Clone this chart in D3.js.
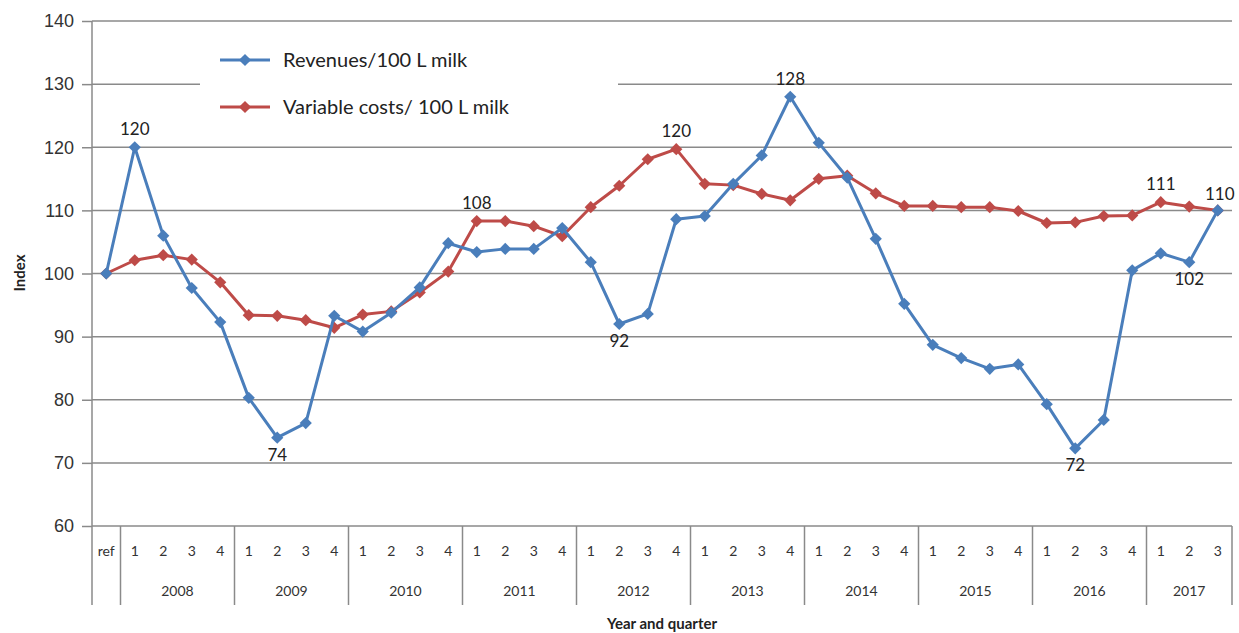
<!DOCTYPE html>
<html>
<head>
<meta charset="utf-8">
<script src="https://cdn.jsdelivr.net/npm/d3@7"></script>
<style>
  html, body { margin: 0; padding: 0; background: #fff; }
  svg { display: block; font-family: Lato, "Open Sans", "Liberation Sans", sans-serif; }
</style>
</head>
<body>
<svg id="chart" width="1239" height="633"></svg>
<script>
// Quarter categories: reference point, then quarters per year
const years = ["2008","2009","2010","2011","2012","2013","2014","2015","2016","2017"];
const quartersPerYear = [4,4,4,4,4,4,4,4,4,3];
const yTicks = [60,70,80,90,100,110,120,130,140];

// Index values (reference = 100)
const revenues = [100,
  120,106,97.7,92.3,
  80.3,74,76.3,93.3,
  90.8,93.8,97.8,104.8,
  103.4,103.9,103.9,107.2,
  101.8,92,93.6,108.6,
  109.1,114.2,118.7,128,
  120.7,115.2,105.5,95.2,
  88.7,86.6,84.9,85.6,
  79.3,72.3,76.8,100.5,
  103.2,101.8,110];
const costs = [100,
  102.1,102.9,102.2,98.6,
  93.4,93.3,92.6,91.4,
  93.5,94,97,100.3,
  108.3,108.3,107.5,105.9,
  110.5,113.9,118.1,119.7,
  114.2,114,112.6,111.6,
  115,115.5,112.7,110.7,
  110.7,110.5,110.5,109.9,
  108,108.1,109.1,109.2,
  111.3,110.6,110];

// Value labels: [series, index, text, position]
const valueLabels = [
  ["rev", 1, "120", "above"],
  ["rev", 6, "74", "below"],
  ["cost", 13, "108", "above"],
  ["rev", 18, "92", "below"],
  ["cost", 20, "120", "above"],
  ["rev", 24, "128", "above"],
  ["rev", 34, "72", "below"],
  ["cost", 37, "111", "above"],
  ["cost", 39, "110", "aboveRight"],
  ["rev", 38, "102", "below"]
];

const legendNames = ["Revenues/100 L milk", "Variable costs/ 100 L milk"];
const blue = "#4a7ebb", red = "#be4b48";

// Build category list
const cats = [{ key: "ref", q: "ref", year: null }];
years.forEach((yr, i) => {
  for (let q = 1; q <= quartersPerYear[i]; q++) cats.push({ key: yr + "-" + q, q: String(q), year: yr });
});

const svg = d3.select("#chart");
const plotLeft = 92, plotRight = 1232, plotTop = 21, plotBottom = 526, axisBottom = 605;

const x = d3.scaleBand().domain(cats.map(d => d.key)).range([plotLeft, plotRight]).padding(0);
const y = d3.scaleLinear().domain([60, 140]).range([plotBottom, plotTop]);
const cx = k => x(k) + x.bandwidth() / 2;
const gridColor = "#8a8a8a";

// Horizontal gridlines
svg.append("g").selectAll("line").data(yTicks).join("line")
  .attr("x1", plotLeft).attr("x2", plotRight)
  .attr("y1", d => y(d)).attr("y2", d => y(d))
  .attr("stroke", gridColor).attr("stroke-width", 1.5);

// Y axis with ticks to the left
const yAxis = svg.append("g").attr("transform", `translate(${plotLeft},0)`)
  .call(d3.axisLeft(y).tickValues(yTicks).tickSize(10).tickPadding(8));
yAxis.select(".domain").remove();
yAxis.selectAll("line").attr("stroke", gridColor).attr("stroke-width", 1.5);
yAxis.selectAll("text").attr("font-size", 18).attr("fill", "#333").attr("font-family", null);

// Left axis line extends down through the category labels
svg.append("line").attr("x1", plotLeft).attr("x2", plotLeft).attr("y1", plotTop).attr("y2", axisBottom)
  .attr("stroke", gridColor).attr("stroke-width", 1.5);
svg.append("line").attr("x1", plotRight).attr("x2", plotRight).attr("y1", plotBottom).attr("y2", axisBottom)
  .attr("stroke", gridColor).attr("stroke-width", 1.5);

// Group separators (after ref and between years)
const seps = [x(cats[1].key)];
let idx = 1;
years.forEach((yr, i) => {
  idx += quartersPerYear[i];
  if (idx < cats.length) seps.push(x(cats[idx].key));
});
svg.append("g").selectAll("line").data(seps).join("line")
  .attr("x1", d => d).attr("x2", d => d).attr("y1", plotBottom).attr("y2", axisBottom)
  .attr("stroke", gridColor).attr("stroke-width", 1.5);

// Quarter labels
svg.append("g").selectAll("text").data(cats).join("text")
  .attr("x", d => cx(d.key)).attr("y", 556)
  .attr("text-anchor", "middle").attr("font-size", 14).attr("fill", "#333")
  .text(d => d.q);

// Year labels
let start = 1;
const yearPos = years.map((yr, i) => {
  const a = x(cats[start].key);
  const b = x(cats[start + quartersPerYear[i] - 1].key) + x.bandwidth();
  start += quartersPerYear[i];
  return { year: yr, mid: (a + b) / 2 };
});
svg.append("g").selectAll("text").data(yearPos).join("text")
  .attr("x", d => d.mid).attr("y", 596)
  .attr("text-anchor", "middle").attr("font-size", 14).attr("fill", "#333")
  .text(d => d.year);

// Axis titles
svg.append("text").attr("x", 662).attr("y", 629).attr("text-anchor", "middle")
  .attr("font-size", 15).attr("font-weight", "bold").attr("fill", "#222")
  .text("Year and quarter");
svg.append("text").attr("transform", "translate(25,273) rotate(-90)").attr("text-anchor", "middle")
  .attr("font-size", 15).attr("font-weight", "bold").attr("fill", "#222")
  .text("Index");

// Legend background blanks gridlines under it
svg.append("rect").attr("x", 200).attr("y", 34).attr("width", 418).attr("height", 100).attr("fill", "#fff");

const diamond = d3.symbol().type(d3.symbolDiamond2).size(95);

function drawSeries(vals, color) {
  const line = d3.line().x((d, i) => cx(cats[i].key)).y(d => y(d));
  svg.append("path").datum(vals).attr("d", line)
    .attr("fill", "none").attr("stroke", color).attr("stroke-width", 3).attr("stroke-linejoin", "round");
  svg.append("g").selectAll("path").data(vals).join("path")
    .attr("d", diamond)
    .attr("transform", (d, i) => `translate(${cx(cats[i].key)},${y(d)})`)
    .attr("fill", color);
}
drawSeries(costs, red);
drawSeries(revenues, blue);

// Data labels
svg.append("g").selectAll("text").data(valueLabels).join("text")
  .attr("x", d => cx(cats[d[1]].key) + (d[3] === "aboveRight" ? 2 : 0))
  .attr("y", d => {
    const v = (d[0] === "rev" ? revenues : costs)[d[1]];
    return d[3] === "below" ? y(v) + 23 : y(v) - (d[3] === "aboveRight" ? 10 : 12);
  })
  .attr("text-anchor", "middle").attr("font-size", 17).attr("fill", "#222")
  .text(d => d[2]);

// Legend
const legend = svg.append("g");
[[legendNames[0], blue, 60], [legendNames[1], red, 107]].forEach(([name, color, ly]) => {
  legend.append("line").attr("x1", 220).attr("x2", 270).attr("y1", ly).attr("y2", ly)
    .attr("stroke", color).attr("stroke-width", 3);
  legend.append("path").attr("d", diamond).attr("transform", `translate(245,${ly})`).attr("fill", color);
  legend.append("text").attr("x", 283).attr("y", ly + 7).attr("font-size", 20).attr("fill", "#222").text(name);
});
</script>
</body>
</html>
